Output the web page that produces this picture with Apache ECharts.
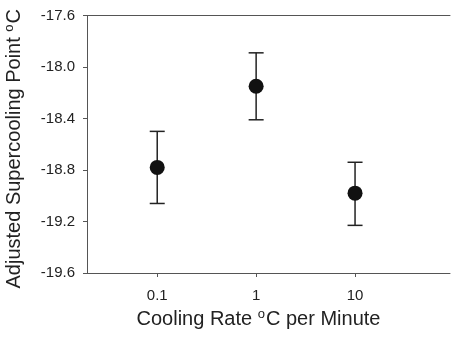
<!DOCTYPE html>
<html><head><meta charset="utf-8">
<script src="https://cdn.jsdelivr.net/npm/echarts@6/dist/echarts.min.js"></script>
<style>html,body{margin:0;padding:0;background:#fff}#c{width:451px;height:339px}</style>
</head><body><div id="c"></div>
<script>
var categories = ['0.1', '1', '10'];
var positions = [1, 2, 3];
var means = [-18.78, -18.15, -18.98];
var upper = [-18.50, -17.89, -18.74];
var lower = [-19.06, -18.41, -19.23];
var yTicks = [-19.6, -19.2, -18.8, -18.4, -18.0, -17.6];

var chart = echarts.init(document.getElementById('c'));
var font = 'Liberation Sans, Arial, sans-serif';
var pts = positions.map(function (p, i) { return [p, means[i]]; });
var errs = positions.map(function (p, i) { return [p, lower[i], upper[i]]; });

chart.setOption({
  animation: false,
  grid: { left: 87, top: 15.5, right: 1, bottom: 66, containLabel: false, outerBoundsMode: 'none' },
  xAxis: [{
    type: 'value', min: 0.29, max: 3.96,
    splitLine: { show: false },
    axisLine: { lineStyle: { color: '#555', width: 1 } },
    axisTick: { customValues: positions, length: 4, lineStyle: { color: '#555' } },
    axisLabel: {
      customValues: positions, margin: 15, color: '#222', fontSize: 15, fontFamily: font,
      formatter: function (v) { return categories[positions.indexOf(v)]; }
    },
    name: '{n|Cooling Rate }{s|o}{n|C per Minute}',
    nameLocation: 'middle', nameGap: 34,
    nameTextStyle: {
      padding: [0, 20, 0, 0],
      rich: {
        n: { fontSize: 20, fontFamily: font, color: '#222' },
        s: { fontSize: 13, fontFamily: font, color: '#222', verticalAlign: 'top', padding: [0, 1, 10, 0] }
      }
    }
  }, {
    type: 'value', position: 'top', min: 0.29, max: 3.96,
    axisLine: { show: true, lineStyle: { color: '#555', width: 1 } },
    axisTick: { show: false }, axisLabel: { show: false }, splitLine: { show: false }
  }],
  yAxis: {
    type: 'value', min: -19.6, max: -17.6, interval: 0.4,
    splitLine: { show: false },
    axisLine: { show: true, lineStyle: { color: '#555', width: 1 } },
    axisTick: { show: true, length: 4, lineStyle: { color: '#555' } },
    axisLabel: {
      margin: 12, color: '#222', fontSize: 15, fontFamily: font,
      formatter: function (v) { return v.toFixed(1); }
    },
    name: '{n|Adjusted Supercooling Point }{s|o}{n|C}',
    nameLocation: 'middle', nameGap: 61, nameRotate: 90,
    nameTextStyle: {
      padding: [0, 9, 0, 0],
      rich: {
        n: { fontSize: 20, fontFamily: font, color: '#222' },
        s: { fontSize: 13, fontFamily: font, color: '#222', verticalAlign: 'top', padding: [0, 1, 10, 0] }
      }
    }
  },
  series: [{
    type: 'custom',
    data: errs,
    renderItem: function (params, api) {
      var x = api.value(0);
      var lo = api.coord([x, api.value(1)]);
      var hi = api.coord([x, api.value(2)]);
      var w = 7.5;
      var st = { stroke: '#222', lineWidth: 1.5 };
      return { type: 'group', children: [
        { type: 'line', shape: { x1: lo[0], y1: lo[1], x2: hi[0], y2: hi[1] }, style: st },
        { type: 'line', shape: { x1: lo[0] - w, y1: lo[1], x2: lo[0] + w, y2: lo[1] }, style: st },
        { type: 'line', shape: { x1: hi[0] - w, y1: hi[1], x2: hi[0] + w, y2: hi[1] }, style: st }
      ]};
    },
    z: 2
  }, {
    type: 'scatter',
    data: pts,
    symbol: 'circle', symbolSize: 15,
    itemStyle: { color: '#111', opacity: 1 },
    z: 3
  }]
});
</script></body></html>
